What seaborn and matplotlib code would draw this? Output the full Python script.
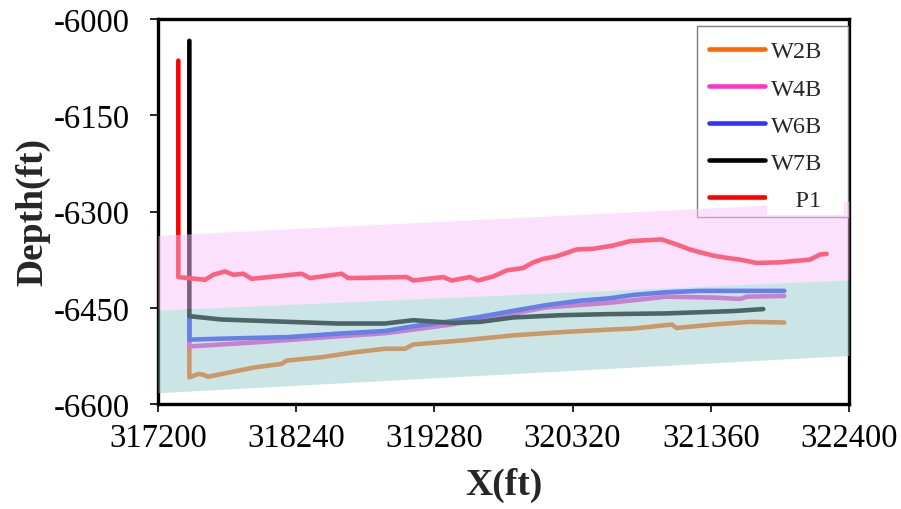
import numpy as np
import pandas as pd
import matplotlib
matplotlib.use("Agg")
import matplotlib.pyplot as plt
from matplotlib.patches import Rectangle
import seaborn as sns

# ---------------- data ----------------
w2b_x = [317436, 317436, 317436, 317502, 317540, 317577, 317803, 317930, 318131, 318168,
         318432, 318682, 318908, 319059, 319121, 319497, 319874, 320250, 320601, 320777,
         321066, 321103, 321404, 321655, 321913]
w2b_d = [-6463, -6558.6, -6558.6, -6553.2, -6554.3, -6557.5, -6548, -6542.9, -6537.5, -6532.3,
         -6527.1, -6519.3, -6513.9, -6513.9, -6507.2, -6500.8, -6493, -6487.8, -6484, -6482.4,
         -6476.2, -6481.5, -6475.7, -6472, -6473]

w4b_x = [317436, 317436, 317930, 318555, 318908, 319405, 320125, 320601, 321028, 321404,
         321580, 321630, 321913]
w4b_d = [-6463, -6510.3, -6504, -6494.6, -6489.8, -6476.2, -6449.4, -6442.2, -6432.7, -6434.3,
         -6436.3, -6432.7, -6431.6]

w6b_x = [317436, 317436, 317676, 318181, 318557, 318908, 319121, 319372, 319623, 319874,
         320125, 320375, 320601, 320777, 321028, 321278, 321655, 321913]
w6b_d = [-6463, -6499.7, -6498.2, -6495.7, -6490.3, -6486.2, -6478.8, -6472, -6464.2, -6454.8,
         -6445.8, -6439, -6435.2, -6430, -6425.8, -6423.7, -6423.7, -6423.7]

w7b_x = [317436, 317436, 317676, 318181, 318557, 318908, 319121, 319422, 319623, 319874,
         320250, 320601, 321028, 321529, 321755]
w7b_d = [-6034, -6463.1, -6468.3, -6472, -6474.6, -6474.6, -6469.4, -6473.6, -6472, -6465.1,
         -6461.5, -6459.9, -6458.8, -6455.2, -6452.1]

p1_x = [317353, 317353, 317554, 317616, 317704, 317767, 317842, 317905, 318281, 318344,
        318582, 318632, 319071, 319121, 319347, 319410, 319548, 319610, 319723, 319824,
        319949, 320024, 320099, 320200, 320351, 320476, 320626, 320752, 320990, 321103,
        321203, 321278, 321378, 321479, 321580, 321705, 321881, 322106, 322181, 322232]
p1_d = [-6065, -6402.2, -6406.4, -6398.6, -6393.4, -6398.6, -6397, -6404.9, -6397, -6403.8,
        -6397, -6403.8, -6402.2, -6407.5, -6402.2, -6407.5, -6402.2, -6407.5, -6401.2, -6391.8,
        -6388, -6379.2, -6373.9, -6369.8, -6359.2, -6358.1, -6353, -6346.2, -6343.5, -6351.4,
        -6359.2, -6363.5, -6368.7, -6372.3, -6375, -6380.2, -6379.2, -6375, -6367.1, -6366]

wells = ["W2B", "W4B", "W6B", "W7B", "P1"]
well_colors = ["#ff6600", "#ff33cc", "#3333ff", "#000000", "#ff0000"]

# shaded zones (corner depths at x = 317200 and 322400)
zone_x = [317200, 322400]
upper_zone_top = [-6337.2, -6283.7]
upper_zone_bot = [-6453.6, -6406.4]
lower_zone_top = [-6453.6, -6406.4]
lower_zone_bot = [-6582.5, -6524.4]

x_ticks = [317200, 318240, 319280, 320320, 321360, 322400]
y_ticks = [-6600, -6450, -6300, -6150, -6000]

# ---------------- table ----------------
frames = []
for name, xs, ds in [("W2B", w2b_x, w2b_d), ("W4B", w4b_x, w4b_d), ("W6B", w6b_x, w6b_d),
                     ("W7B", w7b_x, w7b_d), ("P1", p1_x, p1_d)]:
    frames.append(pd.DataFrame({"X": xs, "Depth": ds, "well": name}))
df = pd.concat(frames, ignore_index=True)

# ---------------- plot ----------------
sns.set_theme(style="white")
plt.rcParams["font.family"] = ["Liberation Serif", "DejaVu Serif"]

W, H = 901, 510
fig = plt.figure(figsize=(W / 100, H / 100), dpi=100)
ax_l, ax_r, ax_t, ax_b = 158, 849, 20, 405
ax = fig.add_axes([ax_l / W, 1 - ax_b / H, (ax_r - ax_l) / W, (ax_b - ax_t) / H])

sns.lineplot(data=df, x="X", y="Depth", hue="well", hue_order=wells,
             palette=dict(zip(wells, well_colors)), sort=False, estimator=None,
             linewidth=3.3, ax=ax, legend=True, zorder=2)
for ln in ax.get_lines():
    ln.set_solid_capstyle("round")
    ln.set_solid_joinstyle("round")

ax.fill_between(zone_x, upper_zone_bot, upper_zone_top, facecolor=(251/255, 197/255, 251/255),
                alpha=0.5, linewidth=0, zorder=3)
ax.fill_between(zone_x, lower_zone_bot, lower_zone_top, facecolor=(153/255, 205/255, 209/255),
                alpha=0.5, linewidth=0, zorder=3)

ax.set_xlim(x_ticks[0], x_ticks[-1])
ax.set_ylim(y_ticks[0], y_ticks[-1])
ax.set_xticks(x_ticks)
ax.set_yticks(y_ticks)
ax.set_xticklabels([str(v) for v in x_ticks])
ax.set_yticklabels([str(v) for v in y_ticks])

for sp in ax.spines.values():
    sp.set_linewidth(2.4)
    sp.set_color("black")
    sp.set_zorder(2.5)

ax.tick_params(axis="both", which="major", direction="out", length=6, width=1.2,
               color="black", labelsize=23.5, labelcolor="black")
ax.tick_params(axis="x", bottom=True, pad=7)
ax.tick_params(axis="y", left=True, pad=14)

ax.set_xlabel("X(ft)", fontsize=27, fontweight="bold", labelpad=10)
ax.set_ylabel("Depth(ft)", fontsize=27, fontweight="bold", labelpad=3)

# legend box (drawn under the shaded zones, as in the reference)
def ax_frac(px, py):
    return ((px - ax_l) / (ax_r - ax_l), (ax_b - py) / (ax_b - ax_t))

bx0, by0 = ax_frac(697, 218)
bx1, by1 = ax_frac(848, 27)
ax.add_patch(Rectangle((bx0, by0), bx1 - bx0, by1 - by0, transform=ax.transAxes,
                       facecolor="white", edgecolor="#7f7f7f", linewidth=1.0, zorder=2.9,
                       clip_on=False))

handles, labels = ax.get_legend_handles_labels()
lx, ly = ax_frac(690, 22)
leg = ax.legend(handles, labels, loc="upper left", bbox_to_anchor=(lx, ly),
                fontsize=17.5, frameon=False, handlelength=2.3, labelspacing=0.62,
                borderpad=0.3, handletextpad=0.25)
leg.set_zorder(5)
for lh in leg.get_lines():
    lh.set_linewidth(3.3)
    lh.set_solid_capstyle("round")
p1_text = leg.get_texts()[-1]
p1_text.set_text("    P1   ")
p1_text.set_bbox(dict(facecolor="white", edgecolor="none", pad=3))

fig.savefig("out.png", dpi=100)
